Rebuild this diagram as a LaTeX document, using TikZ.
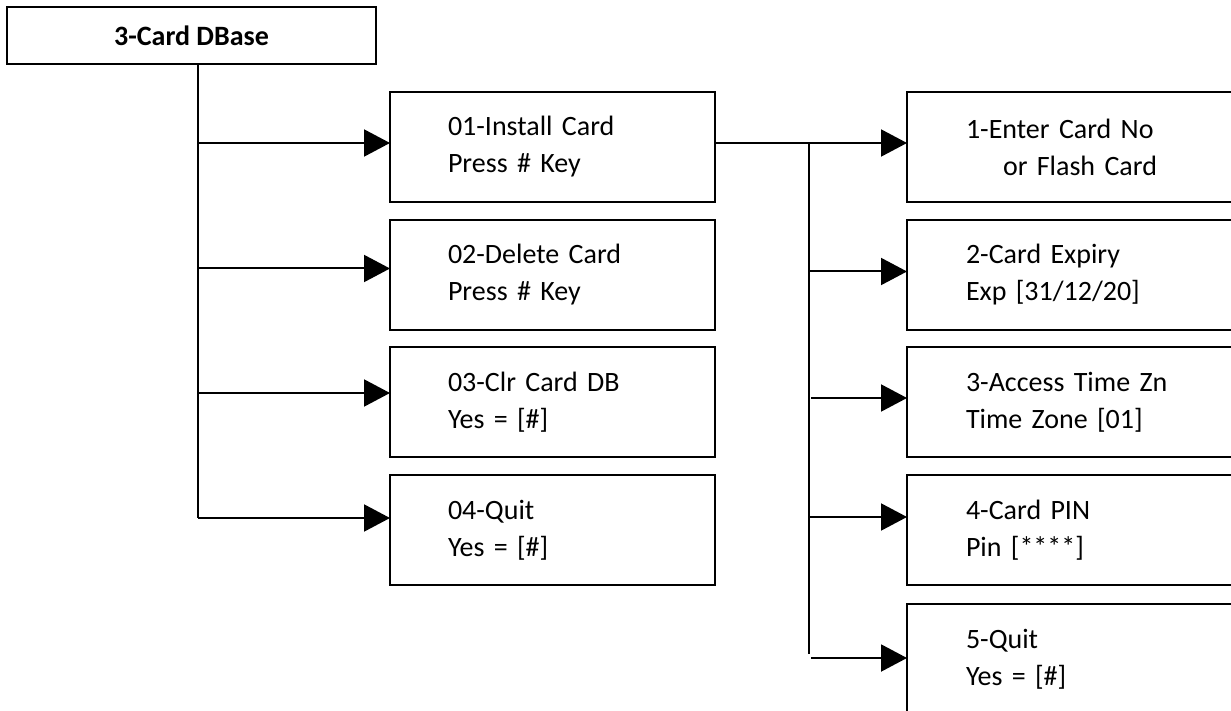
\documentclass[tikz,border=0pt]{standalone}
\usepackage{fontspec}
\setmainfont{Carlito}
\usetikzlibrary{arrows.meta}

\begin{document}
\begin{tikzpicture}[x=1pt,y=-1pt,
    box/.style={draw,line width=2pt,anchor=north west,align=left,inner ysep=0pt,outer sep=0pt,
        font=\fontsize{28}{37}\selectfont},
    midbox/.style={box,minimum width=325pt,minimum height=110pt,text width=209pt,inner xsep=58pt},
    rightbox/.style={box,minimum width=400pt,minimum height=110pt,text width=282pt,inner xsep=59pt},
    link/.style={line width=2pt},
    arr/.style={link,-{Triangle[length=26pt,width=27pt]}}]
    \clip (0,0) rectangle (1231,711);

    \node[box,minimum width=369pt,minimum height=57pt,inner xsep=0pt,align=center,
        font=\bfseries\fontsize{28}{34}\selectfont] (dbase) at (7,7) {3-Card DBase};

    \node[midbox] (install) at (390,92) {01-Install Card\\Press \# Key\\[-6pt]};
    \node[midbox] (delete) at (390,220) {02-Delete Card\\Press \# Key\\[-6pt]};
    \node[midbox] (clear) at (390,347) {03-Clr Card DB\\Yes = [\#]\\[-6pt]};
    \node[midbox] (quit) at (390,475) {04-Quit\\Yes = [\#]\\[-6pt]};

    \node[rightbox] (cardno) at (907,92) {1-Enter Card No\\\hspace*{37pt}or Flash Card\\[-6pt]};
    \node[rightbox] (expiry) at (907,220) {2-Card Expiry\\Exp [31/12/20]\\[-6pt]};
    \node[rightbox] (zone) at (907,347) {3-Access Time Zn\\Time Zone [01]\\[-6pt]};
    \node[rightbox] (pin) at (907,475) {4-Card PIN\\Pin [****]\\[-6pt]};
    \node[rightbox,minimum height=111pt] (cquit) at (907,604) {5-Quit\\Yes = [\#]};

    \coordinate (in1) at ([yshift=4pt]install.west);
    \coordinate (in2) at ([yshift=6.5pt]delete.west);
    \coordinate (in3) at ([yshift=9pt]clear.west);
    \coordinate (in4) at ([yshift=12pt]quit.west);
    \coordinate (out1) at ([yshift=4pt]cardno.west);
    \coordinate (out2) at ([yshift=3.5pt]expiry.west);
    \coordinate (out3) at ([yshift=4pt]zone.west);
    \coordinate (out4) at ([yshift=13pt]pin.west);
    \coordinate (out5) at ([yshift=1.5pt]cquit.west);

    % menu trunk
    \coordinate (trunk) at (dbase.south -| 198,0);
    \draw[link] (trunk) -- (trunk |- in4);
    \draw[arr] (trunk |- in1) -- (in1);
    \draw[arr] (trunk |- in2) -- (in2);
    \draw[arr] (trunk |- in3) -- (in3);
    \draw[arr] (trunk |- in4) -- (in4);

    % install card sub menu
    \coordinate (branch) at (809,0);
    \draw[arr] (install.east |- out1) -- (out1);
    \draw[link] (branch |- out1) -- ([yshift=4pt]branch |- out5);
    \draw[arr] (branch |- out2) -- (out2);
    \draw[arr] ([xshift=2pt]branch |- out3) -- (out3);
    \draw[arr] (branch |- out4) -- (out4);
    \draw[arr] ([xshift=2pt]branch |- out5) -- (out5);
\end{tikzpicture}
\end{document}
